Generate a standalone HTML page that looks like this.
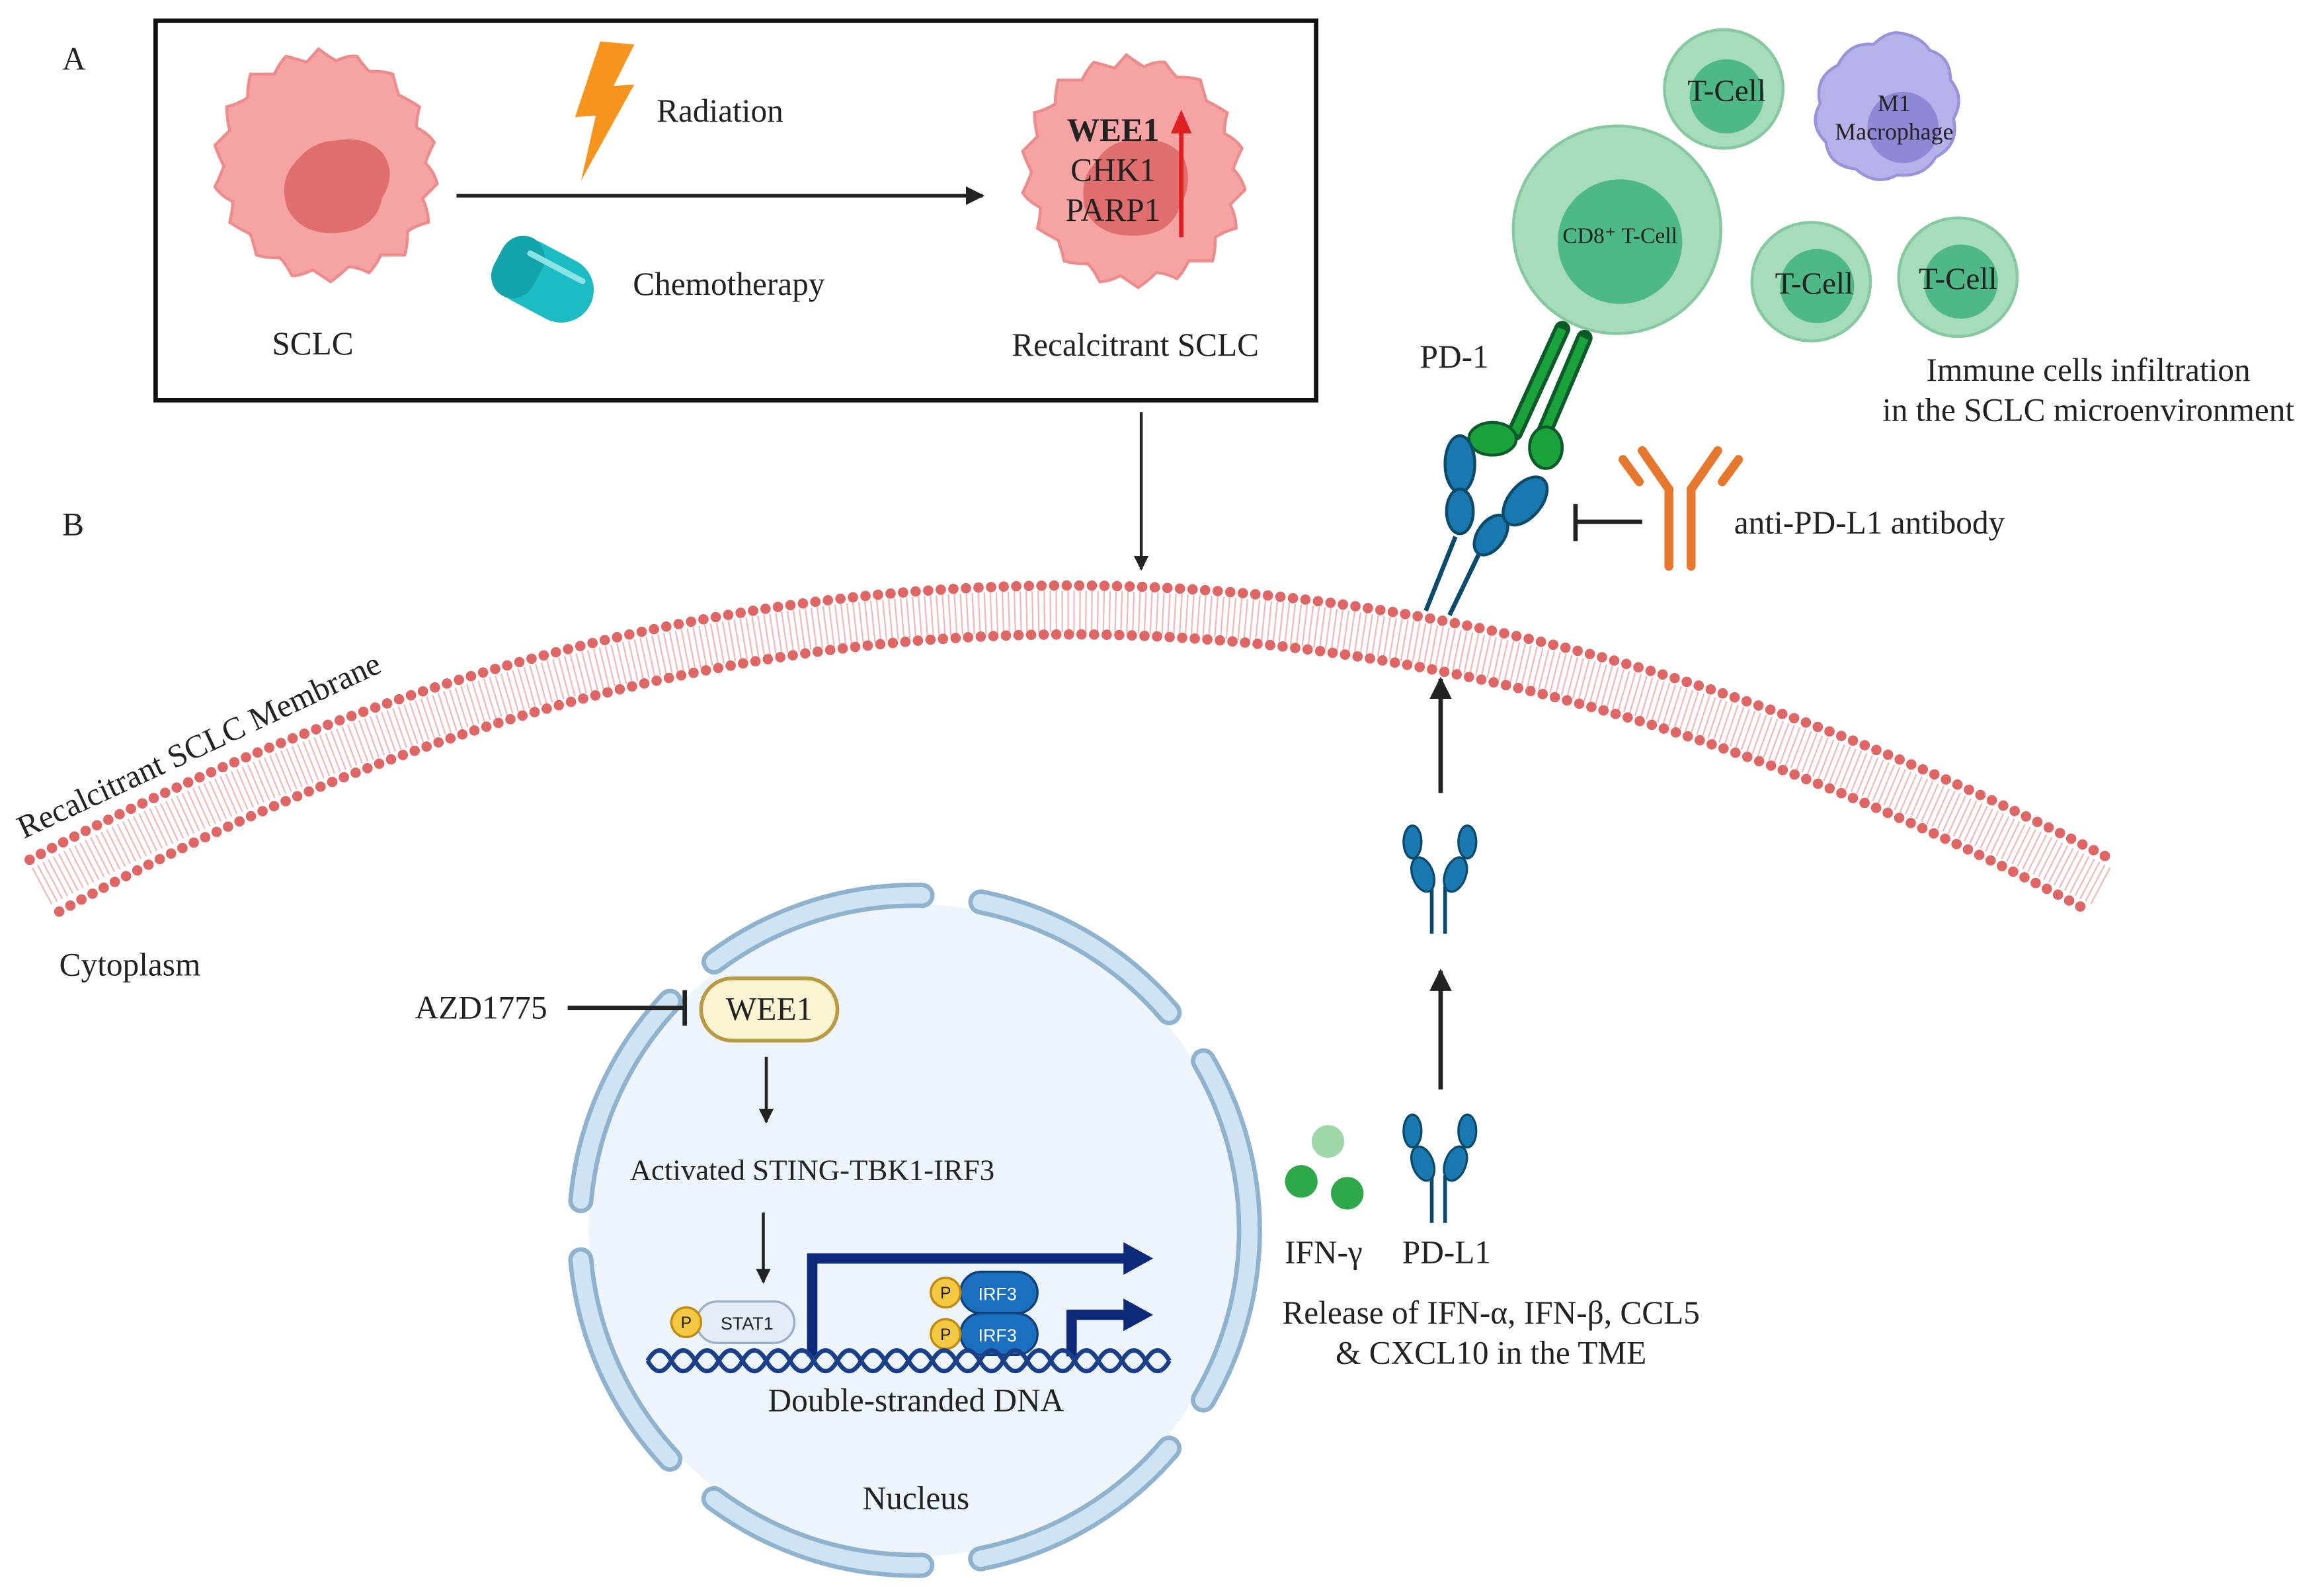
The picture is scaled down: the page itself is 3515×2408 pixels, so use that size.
<!DOCTYPE html>
<html><head><meta charset="utf-8"><style>html,body{margin:0;padding:0;background:#fff}svg{display:block}</style></head>
<body>
<svg width="3515" height="2408" viewBox="0 0 1568 1074" preserveAspectRatio="none" xmlns="http://www.w3.org/2000/svg" font-family="'Liberation Serif', serif" fill="#222">
<defs>
<marker id="ah" viewBox="0 0 10 10" refX="9" refY="5" markerWidth="5" markerHeight="5" orient="auto"><path d="M0 0L10 5L0 10z" fill="#222"/></marker>
</defs>
<rect width="1568" height="1074" fill="#fff"/>
<text x="42" y="47" font-size="22">A</text>
<rect x="105" y="14" width="783" height="256" fill="none" stroke="#111" stroke-width="3"/>
<path d="M215 33 q8 6 12 8 q8 -4 14 -3 q4 6 8 10 q10 0 16 2 q2 8 4 14 q8 4 14 8 q-2 8 -2 14 q8 4 12 10 q-4 8 -6 14 q6 6 8 14 q-6 6 -10 10 q4 8 4 16 q-8 2 -14 6 q0 10 -2 16 q-10 0 -16 0 q-4 8 -8 12 q-8 -4 -14 -4 q-6 6 -12 10 q-6 -4 -12 -8 q-8 4 -14 4 q-4 -8 -8 -12 q-10 0 -16 -2 q-2 -8 -4 -14 q-8 -4 -14 -8 q2 -8 2 -14 q-8 -4 -12 -10 q4 -8 6 -14 q-4 -8 -6 -14 q6 -6 10 -10 q-2 -8 -2 -16 q8 -2 14 -6 q0 -8 2 -16 q10 0 16 0 q4 -8 8 -12 q8 2 14 4z" fill="#f5a3a3" stroke="#ee8c8c" stroke-width="2"/>
<path d="M226 95 q20 -4 32 8 q10 14 0 30 q-4 22 -30 24 q-24 2 -34 -16 q-6 -18 4 -30 q12 -16 28 -16z" fill="#e06e6e"/>
<text x="211" y="239" font-size="22" text-anchor="middle">SCLC</text>
<line x1="308" y1="132" x2="663" y2="132" stroke="#222" stroke-width="2.5" marker-end="url(#ah)"/>
<path d="M405 28 L428 30 L414 58 L428 57 L392 122 L402 78 L388 79 Z" fill="#f7941d"/>
<text x="443" y="82" font-size="22">Radiation</text>
<g transform="rotate(28 368 190)"><rect x="332" y="168" width="70" height="44" rx="22" fill="#1cbcc4"/><rect x="332" y="168" width="30" height="44" rx="16" fill="#13a3ab"/><path d="M350 178 h40" stroke="#8ce3e6" stroke-width="4" stroke-linecap="round"/></g>
<text x="427" y="199" font-size="22">Chemotherapy</text>
<path d="M760 37 q8 6 12 8 q8 -4 14 -3 q4 6 8 10 q10 0 16 2 q2 8 4 14 q8 4 14 8 q-2 8 -2 14 q8 4 12 10 q-4 8 -6 14 q6 6 8 14 q-6 6 -10 10 q4 8 4 16 q-8 2 -14 6 q0 10 -2 16 q-10 0 -16 0 q-4 8 -8 12 q-8 -4 -14 -4 q-6 6 -12 10 q-6 -4 -12 -8 q-8 4 -14 4 q-4 -8 -8 -12 q-10 0 -16 -2 q-2 -8 -4 -14 q-8 -4 -14 -8 q2 -8 2 -14 q-8 -4 -12 -10 q4 -8 6 -14 q-4 -8 -6 -14 q6 -6 10 -10 q-2 -8 -2 -16 q8 -2 14 -6 q0 -8 2 -16 q10 0 16 0 q4 -8 8 -12 q8 2 14 4z" fill="#f5a3a3" stroke="#ee8c8c" stroke-width="2"/>
<path d="M762 95 q24 -4 36 10 q8 18 -2 34 q-6 20 -32 20 q-24 0 -32 -18 q-4 -20 6 -30 q10 -16 24 -16z" fill="#e06e6e"/>
<text x="751" y="95" font-size="22" font-weight="bold" text-anchor="middle">WEE1</text>
<text x="751" y="122" font-size="22" text-anchor="middle">CHK1</text>
<text x="751" y="149" font-size="22" text-anchor="middle">PARP1</text>
<line x1="797" y1="160" x2="797" y2="86" stroke="#e02020" stroke-width="3"/>
<path d="M790 90 L797 74 L804 90Z" fill="#e02020"/>
<text x="766" y="240" font-size="22" text-anchor="middle">Recalcitrant SCLC</text>
<line x1="770" y1="278" x2="770" y2="384" stroke="#222" stroke-width="2" marker-end="url(#ah)"/>
<text x="42" y="361" font-size="22">B</text>
<path d="M28 598 Q720 227 1418 598" fill="none" stroke="#f2b8b8" stroke-width="28" stroke-dasharray="1 3"/>
<path d="M20 580 Q720 210 1425 580" fill="none" stroke="#e06666" stroke-width="7" stroke-linecap="round" stroke-dasharray="0 8.5"/>
<path d="M40 615 Q720 241 1410 615" fill="none" stroke="#e06666" stroke-width="7" stroke-linecap="round" stroke-dasharray="0 8.5"/>
<text x="16" y="566" font-size="22" transform="rotate(-25 16 566)">Recalcitrant SCLC Membrane</text>
<text x="40" y="658" font-size="22">Cytoplasm</text>
<circle cx="1163" cy="60" r="40" fill="#a6dcb9" stroke="#86c99e" stroke-width="2"/><circle cx="1165" cy="65" r="25" fill="#4fb887"/>
<text x="1165" y="68" font-size="21" text-anchor="middle">T-Cell</text>
<path d="M1280 22 q16 2 22 12 q14 4 14 20 q10 12 2 26 q4 18 -12 26 q-8 14 -26 12 q-14 8 -28 -4 q-18 -2 -20 -18 q-12 -12 -4 -26 q-4 -18 12 -26 q8 -16 24 -14 q8 -8 16 -8z" fill="#b5b2ea" stroke="#9993dc" stroke-width="2"/>
<circle cx="1284" cy="86" r="24" fill="#8f88d6"/>
<text x="1278" y="75" font-size="16" text-anchor="middle">M1</text>
<text x="1278" y="94" font-size="16" text-anchor="middle">Macrophage</text>
<circle cx="1091" cy="155" r="70" fill="#a6dcb9" stroke="#86c99e" stroke-width="2"/><circle cx="1093" cy="163" r="42" fill="#4fb887"/>
<text x="1093" y="164" font-size="15" text-anchor="middle">CD8⁺ T-Cell</text>
<circle cx="1222" cy="190" r="40" fill="#a6dcb9" stroke="#86c99e" stroke-width="2"/><circle cx="1226" cy="193" r="25" fill="#4fb887"/>
<text x="1224" y="198" font-size="21" text-anchor="middle">T-Cell</text>
<circle cx="1321" cy="187" r="40" fill="#a6dcb9" stroke="#86c99e" stroke-width="2"/><circle cx="1323" cy="190" r="25" fill="#4fb887"/>
<text x="1321" y="195" font-size="21" text-anchor="middle">T-Cell</text>
<text x="1409" y="257" font-size="22" text-anchor="middle">Immune cells infiltration</text>
<text x="1409" y="284" font-size="22" text-anchor="middle">in the SCLC microenvironment</text>
<text x="958" y="248" font-size="22">PD-1</text>
<path d="M1054 222 L1022 292" stroke="#0a5a2a" stroke-width="11" stroke-linecap="round"/><path d="M1054 222 L1022 292" stroke="#1aa33a" stroke-width="6"/>
<path d="M1069 228 L1040 296" stroke="#0a5a2a" stroke-width="11" stroke-linecap="round"/><path d="M1069 228 L1040 296" stroke="#1aa33a" stroke-width="6"/>
<ellipse cx="1007" cy="296" rx="16" ry="11" fill="#1aa33a" stroke="#0a5a2a" stroke-width="2"/>
<ellipse cx="1043" cy="302" rx="11" ry="14" fill="#1aa33a" stroke="#0a5a2a" stroke-width="2"/>
<line x1="962" y1="412" x2="982" y2="362" stroke="#0a4a6a" stroke-width="3"/>
<line x1="978" y1="415" x2="1002" y2="365" stroke="#0a4a6a" stroke-width="3"/>
<ellipse cx="985" cy="313" rx="10" ry="19" fill="#1a78b0" stroke="#0a4a6a" stroke-width="2"/>
<ellipse cx="985" cy="345" rx="9" ry="15" fill="#1a78b0" stroke="#0a4a6a" stroke-width="2"/>
<ellipse cx="1006" cy="361" rx="9" ry="15" fill="#1a78b0" stroke="#0a4a6a" stroke-width="2" transform="rotate(35 1006 361)"/>
<ellipse cx="1029" cy="338" rx="11" ry="19" fill="#1a78b0" stroke="#0a4a6a" stroke-width="2" transform="rotate(40 1029 338)"/>
<g stroke="#e8772e" stroke-width="6" stroke-linecap="round" fill="none"><path d="M1126 382 V330 L1108 304"/><path d="M1141 382 V330 L1159 304"/><path d="M1106 325 L1095 310"/><path d="M1162 325 L1173 310"/></g>
<path d="M1108 352 H1063 M1063 340 V365" stroke="#222" stroke-width="3"/>
<text x="1170" y="360" font-size="22">anti-PD-L1 antibody</text>
<line x1="972" y1="535" x2="972" y2="458" stroke="#222" stroke-width="3" marker-end="url(#ah)"/>
<line x1="972" y1="735" x2="972" y2="655" stroke="#222" stroke-width="3" marker-end="url(#ah)"/>
<g id="pdl"><path d="M966 630 V598 M975 630 V598" stroke="#0a4a6a" stroke-width="2.5"/>
<ellipse cx="960" cy="590" rx="7" ry="12" fill="#1a78b0" stroke="#0a4a6a" stroke-width="1.5" transform="rotate(-20 960 590)"/>
<ellipse cx="953" cy="568" rx="6" ry="11" fill="#1a78b0" stroke="#0a4a6a" stroke-width="1.5"/>
<ellipse cx="982" cy="590" rx="7" ry="12" fill="#1a78b0" stroke="#0a4a6a" stroke-width="1.5" transform="rotate(20 982 590)"/>
<ellipse cx="990" cy="568" rx="6" ry="11" fill="#1a78b0" stroke="#0a4a6a" stroke-width="1.5"/></g>
<use href="#pdl" transform="translate(0 195)"/>
<circle cx="896" cy="770" r="11" fill="#9ed8a8"/><circle cx="878" cy="797" r="11" fill="#2ea848"/><circle cx="909" cy="805" r="11" fill="#2ea848"/>
<text x="893" y="852" font-size="22" text-anchor="middle">IFN-γ</text>
<text x="976" y="852" font-size="22" text-anchor="middle">PD-L1</text>
<text x="1006" y="893" font-size="22" text-anchor="middle">Release of IFN-α, IFN-β, CCL5</text>
<text x="1006" y="920" font-size="22" text-anchor="middle">&amp; CXCL10 in the TME</text>
<circle cx="617" cy="830" r="220" fill="#eef4fb"/>
<circle cx="617" cy="830" r="226" fill="none" stroke="#8fb3cf" stroke-width="17" stroke-dasharray="150 40" stroke-dashoffset="30" stroke-linecap="round"/>
<circle cx="617" cy="830" r="226" fill="none" stroke="#cfe3f2" stroke-width="11" stroke-dasharray="150 40" stroke-dashoffset="30" stroke-linecap="round"/>
<text x="280" y="687" font-size="22">AZD1775</text>
<path d="M383 680 H462 M462 668 V692" stroke="#222" stroke-width="3"/>
<rect x="473" y="660" width="92" height="42" rx="21" fill="#fbf4d2" stroke="#b89a40" stroke-width="2.5"/>
<text x="519" y="688" font-size="22" text-anchor="middle">WEE1</text>
<line x1="517" y1="713" x2="517" y2="757" stroke="#222" stroke-width="2" marker-end="url(#ah)"/>
<text x="548" y="796" font-size="20" text-anchor="middle">Activated STING-TBK1-IRF3</text>
<line x1="515" y1="818" x2="515" y2="865" stroke="#222" stroke-width="2" marker-end="url(#ah)"/>
<path d="M548 915 V849 H760" fill="none" stroke="#0d2a7a" stroke-width="7"/><path d="M758 838 L778 849 L758 860Z" fill="#0d2a7a"/>
<path d="M723 915 V887 H760" fill="none" stroke="#0d2a7a" stroke-width="7"/><path d="M758 876 L778 887 L758 898Z" fill="#0d2a7a"/>
<rect x="470" y="878" width="66" height="28" rx="14" fill="#e3ecf7" stroke="#9aaecb" stroke-width="1.5"/>
<text x="504" y="897" font-size="12" font-family="'Liberation Sans',sans-serif" text-anchor="middle">STAT1</text>
<circle cx="463" cy="892" r="10" fill="#f5c842" stroke="#c08a10" stroke-width="1.5"/><text x="463" y="896" font-size="11" font-family="'Liberation Sans',sans-serif" text-anchor="middle">P</text>
<rect x="648" y="858" width="52" height="28" rx="14" fill="#1a6fbf" stroke="#0d3f7a" stroke-width="1.5"/>
<rect x="648" y="886" width="52" height="28" rx="14" fill="#1a6fbf" stroke="#0d3f7a" stroke-width="1.5"/>
<text x="673" y="877" font-size="12" font-family="'Liberation Sans',sans-serif" fill="#fff" text-anchor="middle">IRF3</text>
<text x="673" y="905" font-size="12" font-family="'Liberation Sans',sans-serif" fill="#fff" text-anchor="middle">IRF3</text>
<circle cx="638" cy="872" r="10" fill="#f5c842" stroke="#c08a10" stroke-width="1.5"/><text x="638" y="876" font-size="11" font-family="'Liberation Sans',sans-serif" text-anchor="middle">P</text>
<circle cx="638" cy="900" r="10" fill="#f5c842" stroke="#c08a10" stroke-width="1.5"/><text x="638" y="904" font-size="11" font-family="'Liberation Sans',sans-serif" text-anchor="middle">P</text>
<path d="M437 918 q8 -14 16 0 t16 0 t16 0 t16 0 t16 0 t16 0 t16 0 t16 0 t16 0 t16 0 t16 0 t16 0 t16 0 t16 0 t16 0 t16 0 t16 0 t16 0 t16 0 t16 0 t16 0 t16 0" fill="none" stroke="#1a3f8a" stroke-width="3"/>
<path d="M437 918 q8 14 16 0 t16 0 t16 0 t16 0 t16 0 t16 0 t16 0 t16 0 t16 0 t16 0 t16 0 t16 0 t16 0 t16 0 t16 0 t16 0 t16 0 t16 0 t16 0 t16 0 t16 0 t16 0" fill="none" stroke="#1a3f8a" stroke-width="3"/>
<text x="618" y="952" font-size="22" text-anchor="middle">Double-stranded DNA</text>
<text x="618" y="1018" font-size="22" text-anchor="middle">Nucleus</text>
</svg>
</body></html>
